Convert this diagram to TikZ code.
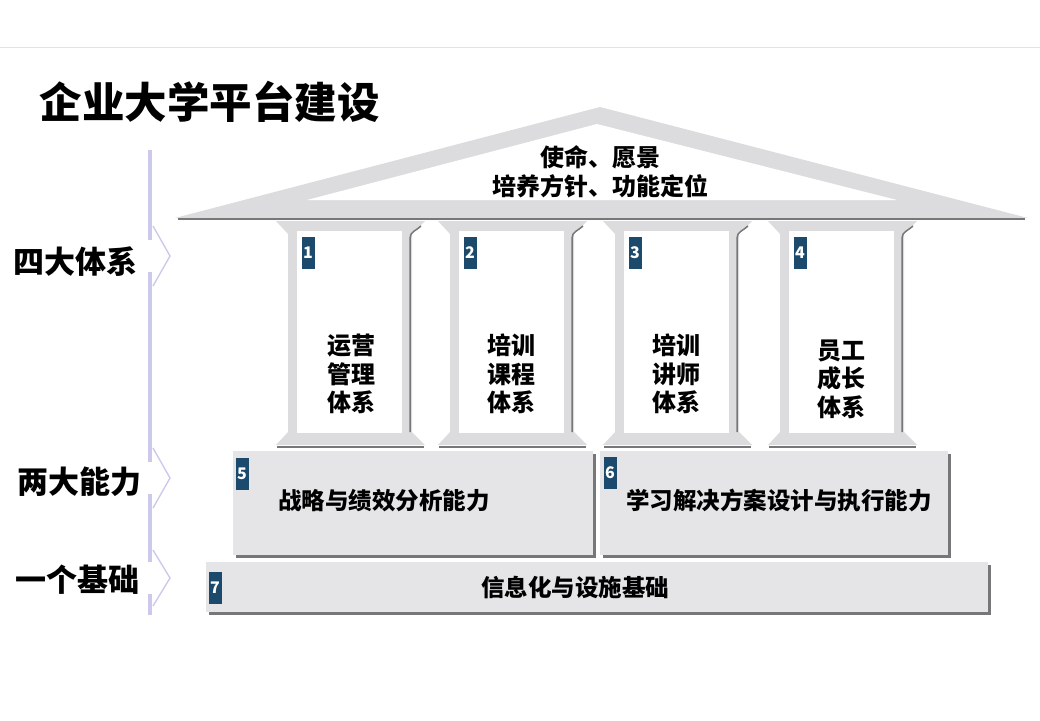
\documentclass[tikz,border=0pt]{standalone}
\usepackage{fontspec}
\setmainfont{Noto Sans CJK SC}
\usepackage{tikz}
\usetikzlibrary{shadows}
\definecolor{roofgray}{HTML}{DCDCDF}
\definecolor{boxgray}{HTML}{E5E4E7}
\definecolor{edgegray}{HTML}{77777A}
\definecolor{badgeblue}{HTML}{1C4A6C}
\definecolor{barlav}{HTML}{CBCAEC}
\definecolor{topline}{HTML}{DDE7E6}
\tikzset{
  lvlbox/.style={
    fill=boxgray, draw=none, inner sep=0pt,
    drop shadow={shadow xshift=2.5pt, shadow yshift=-2.5pt, fill=edgegray, opacity=1}
  },
  numbadge/.style={
    fill=badgeblue, text=white, font=\fontsize{16}{16}\selectfont\bfseries,
    minimum width=13pt, minimum height=32pt, inner sep=0pt
  },
  pillartext/.style={align=center, font=\fontsize{24}{28.5}\selectfont\bfseries},
  lvltext/.style={font=\fontsize{23.5}{24}\selectfont\bfseries},
  sidelabel/.style={font=\fontsize{31}{31}\selectfont\bfseries},
  sidebar/.style={barlav, line width=4pt},
  chevron/.style={barlav, line width=1.4pt, line join=miter}
}
\begin{document}
\begin{tikzpicture}[x=1pt, y=-1pt]
  \useasboundingbox (0,0) rectangle (1040,720);
  \draw[topline, line width=1pt] (0,47) -- (1040,47);
  \node[anchor=west, font=\fontsize{42.5}{42.5}\selectfont\bfseries] (title) at (36,102) {企业大学平台建设};

  % Left side bar with chevrons
  \draw[sidebar] (150,150) -- (150,240);
  \draw[sidebar] (150,272) -- (150,462);
  \draw[sidebar] (150,494) -- (150,562);
  \draw[sidebar] (150,594) -- (150,615);
  \coordinate (tip1) at (170,256);
  \coordinate (tip2) at (170,478);
  \coordinate (tip3) at (170,578);
  \draw[chevron] (153,226) -- (tip1) -- (153,286);
  \draw[chevron] (153,448) -- (tip2) -- (153,508);
  \draw[chevron] (153,550) -- (tip3) -- (153,606);
  \node[sidelabel] (four) at (75,262) {四大体系};
  \node[sidelabel] (two)  at (79,482) {两大能力};
  \node[sidelabel] (one)  at (77,580) {一个基础};

  % Roof
  \fill[roofgray] (175,218) -- (600,107) -- (1028,218) -- cycle;
  \fill[white] (307,200) -- (597,124) -- (897,200) -- cycle;
  \draw[edgegray, line width=2pt] (178,219) -- (1025,219);
  \node[align=center, font=\fontsize{24}{29}\selectfont\bfseries] (mission) at (600,172)
    {使命、愿景\\培养方针、功能定位};

  % Pillars
  \foreach \c in {350,512,677,842} {
    \fill[roofgray] (\c-74,221) -- (\c+75,221) -- (\c+62,234) -- (\c+62,432)
      -- (\c+75,445) -- (\c-74,445) -- (\c-62,432) -- (\c-62,234) -- cycle;
    \fill[white] (\c-53,231) rectangle (\c+52,433);
    \draw[edgegray, line width=1.5pt] (\c+71,226) to[out=-135, in=90] (\c+60,238) -- (\c+60,432);
    \draw[edgegray, line width=2pt] (\c-73,447) -- (\c+74,447);
  }
  \node[numbadge] (b1) at (308,253) {1};
  \node[numbadge] (b2) at (470,253) {2};
  \node[numbadge] (b3) at (635,253) {3};
  \node[numbadge] (b4) at (800,253) {4};
  \node[pillartext] (p1) at (351,374) {运营\\管理\\体系};
  \node[pillartext] (p2) at (511,374) {培训\\课程\\体系};
  \node[pillartext] (p3) at (676,374) {培训\\讲师\\体系};
  \node[pillartext] (p4) at (841,379) {员工\\成长\\体系};

  % Two abilities and the base
  \node[lvlbox, minimum width=360pt, minimum height=104pt] (lvl5) at (413,503) {};
  \node[lvlbox, minimum width=348pt, minimum height=104pt] (lvl6) at (774,503) {};
  \node[lvlbox, minimum width=782pt, minimum height=50pt]  (lvl7) at (597,587) {};
  \node[numbadge] (b5) at (242,474) {5};
  \node[numbadge] (b6) at (610,473) {6};
  \node[numbadge] (b7) at (215,588) {7};
  \node[lvltext] (t5) at (384,501) {战略与绩效分析能力};
  \node[lvltext] (t6) at (779,500) {学习解决方案设计与执行能力};
  \node[lvltext] (t7) at (575,587) {信息化与设施基础};
\end{tikzpicture}
\end{document}
